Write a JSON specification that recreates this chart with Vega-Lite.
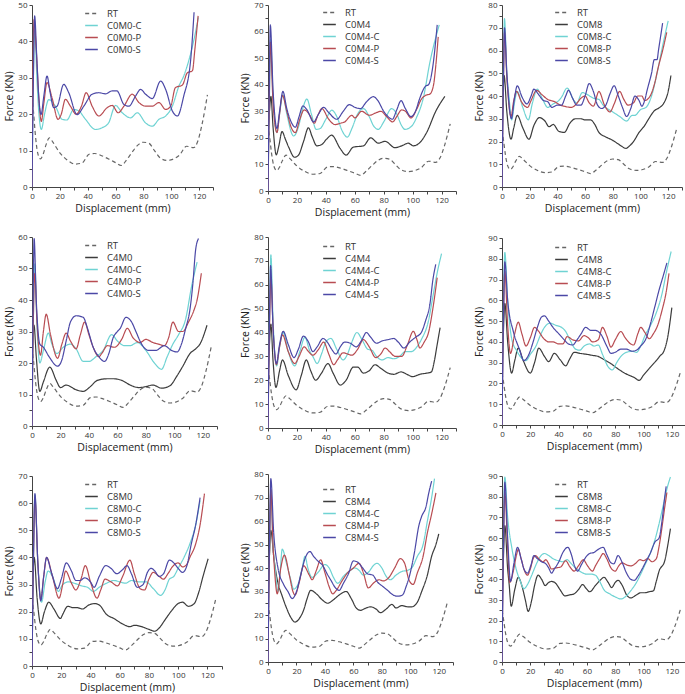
{
"$schema":"https://vega.github.io/schema/vega-lite/v6.json",
"padding":{"left":4,"top":1,"right":0,"bottom":0},
"background":"white",
"datasets":{"d":[
{"s":"RT","x":0,"y":25},{"s":"RT","x":1,"y":21},{"s":"RT","x":2.5,"y":14},{"s":"RT","x":4,"y":9.5},{"s":"RT","x":6,"y":7.7},{"s":"RT","x":8,"y":9},{"s":"RT","x":10,"y":11.5},{"s":"RT","x":12.5,"y":13.5},{"s":"RT","x":15,"y":12.3},{"s":"RT","x":20,"y":9.4},{"s":"RT","x":25,"y":7.5},{"s":"RT","x":31,"y":6.3},{"s":"RT","x":36,"y":6.6},{"s":"RT","x":41,"y":9},{"s":"RT","x":45,"y":9.2},{"s":"RT","x":50,"y":8.6},{"s":"RT","x":55,"y":7.7},{"s":"RT","x":60,"y":6.7},{"s":"RT","x":64,"y":5.9},{"s":"RT","x":68,"y":7.5},{"s":"RT","x":72,"y":9.6},{"s":"RT","x":76,"y":11.5},{"s":"RT","x":80,"y":12.3},{"s":"RT","x":84,"y":12},{"s":"RT","x":88,"y":10},{"s":"RT","x":92,"y":8},{"s":"RT","x":97,"y":7.3},{"s":"RT","x":101,"y":7.6},{"s":"RT","x":106,"y":8.8},{"s":"RT","x":111,"y":11.2},{"s":"RT","x":116,"y":10.8},{"s":"RT","x":119,"y":12.5},{"s":"RT","x":122,"y":17},{"s":"RT","x":126,"y":25.3},

{"s":"C0M0-C","x":0,"y":0},{"s":"C0M0-C","x":1,"y":30},{"s":"C0M0-C","x":2,"y":43},{"s":"C0M0-C","x":3.5,"y":30},{"s":"C0M0-C","x":5,"y":20},{"s":"C0M0-C","x":6.7,"y":15.8},{"s":"C0M0-C","x":9,"y":20},{"s":"C0M0-C","x":12,"y":24},{"s":"C0M0-C","x":16.8,"y":22.2},{"s":"C0M0-C","x":21.6,"y":18.6},{"s":"C0M0-C","x":25,"y":18.4},{"s":"C0M0-C","x":30,"y":21.3},{"s":"C0M0-C","x":33.6,"y":20.9},{"s":"C0M0-C","x":38.4,"y":18.6},{"s":"C0M0-C","x":45.6,"y":15.8},{"s":"C0M0-C","x":50.4,"y":16.3},{"s":"C0M0-C","x":55,"y":17.6},{"s":"C0M0-C","x":60,"y":22.4},{"s":"C0M0-C","x":64.8,"y":20.4},{"s":"C0M0-C","x":70.8,"y":19},{"s":"C0M0-C","x":75.6,"y":20.4},{"s":"C0M0-C","x":81.6,"y":17.6},{"s":"C0M0-C","x":86.4,"y":16.7},{"s":"C0M0-C","x":91.2,"y":18.6},{"s":"C0M0-C","x":96,"y":19.5},{"s":"C0M0-C","x":100.8,"y":22.2},{"s":"C0M0-C","x":105.6,"y":27.8},{"s":"C0M0-C","x":109,"y":30.5},{"s":"C0M0-C","x":112.8,"y":35},{"s":"C0M0-C","x":116.4,"y":40.6},{"s":"C0M0-C","x":119.5,"y":46.6},

{"s":"C0M0-P","x":0,"y":0},{"s":"C0M0-P","x":0.8,"y":35},{"s":"C0M0-P","x":1.5,"y":46},{"s":"C0M0-P","x":3,"y":38},{"s":"C0M0-P","x":5,"y":24},{"s":"C0M0-P","x":6.7,"y":18},{"s":"C0M0-P","x":8.5,"y":23},{"s":"C0M0-P","x":10.8,"y":28.7},{"s":"C0M0-P","x":14.4,"y":24.5},{"s":"C0M0-P","x":18.7,"y":18.6},{"s":"C0M0-P","x":21,"y":20},{"s":"C0M0-P","x":24,"y":24.1},{"s":"C0M0-P","x":27.6,"y":22.2},{"s":"C0M0-P","x":31.7,"y":20},{"s":"C0M0-P","x":35.5,"y":22.2},{"s":"C0M0-P","x":38.9,"y":25.9},{"s":"C0M0-P","x":43.2,"y":22.2},{"s":"C0M0-P","x":48,"y":19.5},{"s":"C0M0-P","x":54,"y":21.8},{"s":"C0M0-P","x":57.6,"y":22.4},{"s":"C0M0-P","x":61.9,"y":20.4},{"s":"C0M0-P","x":66,"y":22.2},{"s":"C0M0-P","x":72,"y":25.5},{"s":"C0M0-P","x":76.8,"y":23.2},{"s":"C0M0-P","x":81.6,"y":22.2},{"s":"C0M0-P","x":86.4,"y":22.2},{"s":"C0M0-P","x":91.2,"y":23.2},{"s":"C0M0-P","x":96,"y":21.3},{"s":"C0M0-P","x":99.6,"y":22.2},{"s":"C0M0-P","x":103,"y":27.3},{"s":"C0M0-P","x":108,"y":28},{"s":"C0M0-P","x":111.6,"y":31.4},{"s":"C0M0-P","x":115.2,"y":31.9},{"s":"C0M0-P","x":117,"y":37.9},{"s":"C0M0-P","x":119.3,"y":47},

{"s":"C0M0-S","x":0,"y":0},{"s":"C0M0-S","x":1,"y":30},{"s":"C0M0-S","x":1.9,"y":47},{"s":"C0M0-S","x":3.5,"y":35},{"s":"C0M0-S","x":5,"y":24},{"s":"C0M0-S","x":6.5,"y":19.9},{"s":"C0M0-S","x":8.5,"y":25},{"s":"C0M0-S","x":10.8,"y":30.5},{"s":"C0M0-S","x":13,"y":26},{"s":"C0M0-S","x":15.6,"y":21.8},{"s":"C0M0-S","x":18,"y":22.2},{"s":"C0M0-S","x":22.8,"y":28.2},{"s":"C0M0-S","x":26.4,"y":25.9},{"s":"C0M0-S","x":32.4,"y":19.9},{"s":"C0M0-S","x":37.2,"y":22.2},{"s":"C0M0-S","x":43.2,"y":25.5},{"s":"C0M0-S","x":48,"y":25.9},{"s":"C0M0-S","x":52.8,"y":25.6},{"s":"C0M0-S","x":57.6,"y":26.4},{"s":"C0M0-S","x":61,"y":26.4},{"s":"C0M0-S","x":66,"y":22.7},{"s":"C0M0-S","x":69.6,"y":22.2},{"s":"C0M0-S","x":74.4,"y":25},{"s":"C0M0-S","x":78,"y":26.8},{"s":"C0M0-S","x":81.6,"y":25.5},{"s":"C0M0-S","x":86.4,"y":24.3},{"s":"C0M0-S","x":92.4,"y":29.1},{"s":"C0M0-S","x":96,"y":26.8},{"s":"C0M0-S","x":100.8,"y":20.9},{"s":"C0M0-S","x":104.4,"y":19.5},{"s":"C0M0-S","x":109,"y":25},{"s":"C0M0-S","x":114,"y":35.1},{"s":"C0M0-S","x":116.4,"y":48},

{"s":"C0M4","x":0,"y":22},{"s":"C0M4","x":1,"y":30},{"s":"C0M4","x":2,"y":35.6},{"s":"C0M4","x":3.5,"y":24},{"s":"C0M4","x":5.7,"y":13.6},{"s":"C0M4","x":7.5,"y":17},{"s":"C0M4","x":9.7,"y":22.4},{"s":"C0M4","x":12,"y":19.5},{"s":"C0M4","x":14.3,"y":16.5},{"s":"C0M4","x":18.4,"y":12.7},{"s":"C0M4","x":21.1,"y":13.5},{"s":"C0M4","x":24.5,"y":18.5},{"s":"C0M4","x":28,"y":23.8},{"s":"C0M4","x":30.5,"y":20.5},{"s":"C0M4","x":33.8,"y":17},{"s":"C0M4","x":37.2,"y":17.5},{"s":"C0M4","x":40.5,"y":19.5},{"s":"C0M4","x":44,"y":21},{"s":"C0M4","x":49.9,"y":16},{"s":"C0M4","x":54,"y":13.5},{"s":"C0M4","x":59,"y":16.5},{"s":"C0M4","x":66,"y":17},{"s":"C0M4","x":71,"y":20},{"s":"C0M4","x":76.3,"y":18},{"s":"C0M4","x":81,"y":18.7},{"s":"C0M4","x":87.8,"y":16.3},{"s":"C0M4","x":92.4,"y":17},{"s":"C0M4","x":97,"y":18},{"s":"C0M4","x":100.5,"y":17},{"s":"C0M4","x":104.6,"y":18},{"s":"C0M4","x":109.7,"y":22},{"s":"C0M4","x":116,"y":30},{"s":"C0M4","x":122.3,"y":35.6},

{"s":"C0M4-C","x":0,"y":0},{"s":"C0M4-C","x":1,"y":35},{"s":"C0M4-C","x":1.8,"y":57},{"s":"C0M4-C","x":3.5,"y":35},{"s":"C0M4-C","x":6.2,"y":22},{"s":"C0M4-C","x":8,"y":29},{"s":"C0M4-C","x":10.3,"y":36.2},{"s":"C0M4-C","x":13,"y":29},{"s":"C0M4-C","x":17.7,"y":20.7},{"s":"C0M4-C","x":21,"y":24},{"s":"C0M4-C","x":24,"y":31},{"s":"C0M4-C","x":26.9,"y":34.6},{"s":"C0M4-C","x":30,"y":29},{"s":"C0M4-C","x":33.3,"y":23.2},{"s":"C0M4-C","x":36,"y":23.5},{"s":"C0M4-C","x":40,"y":27},{"s":"C0M4-C","x":44.1,"y":30.4},{"s":"C0M4-C","x":48,"y":27.5},{"s":"C0M4-C","x":51,"y":23},{"s":"C0M4-C","x":54.9,"y":20.3},{"s":"C0M4-C","x":58,"y":23.5},{"s":"C0M4-C","x":62,"y":29},{"s":"C0M4-C","x":66,"y":31},{"s":"C0M4-C","x":70,"y":28},{"s":"C0M4-C","x":73,"y":24.5},{"s":"C0M4-C","x":76.3,"y":23.2},{"s":"C0M4-C","x":80,"y":26},{"s":"C0M4-C","x":85.5,"y":31},{"s":"C0M4-C","x":89,"y":29},{"s":"C0M4-C","x":92,"y":25},{"s":"C0M4-C","x":94.7,"y":23.2},{"s":"C0M4-C","x":99.3,"y":24.4},{"s":"C0M4-C","x":103,"y":28},{"s":"C0M4-C","x":107.4,"y":35},{"s":"C0M4-C","x":112,"y":48.6},{"s":"C0M4-C","x":118.4,"y":62.5},

{"s":"C0M4-P","x":0,"y":0},{"s":"C0M4-P","x":0.8,"y":30},{"s":"C0M4-P","x":1.6,"y":56},{"s":"C0M4-P","x":3.5,"y":33},{"s":"C0M4-P","x":6.2,"y":22},{"s":"C0M4-P","x":8,"y":29},{"s":"C0M4-P","x":9.9,"y":36},{"s":"C0M4-P","x":13,"y":30},{"s":"C0M4-P","x":16,"y":24},{"s":"C0M4-P","x":18.9,"y":22},{"s":"C0M4-P","x":22,"y":27},{"s":"C0M4-P","x":25,"y":30.5},{"s":"C0M4-P","x":29,"y":28.5},{"s":"C0M4-P","x":32,"y":25.5},{"s":"C0M4-P","x":34.5,"y":28.5},{"s":"C0M4-P","x":37.2,"y":31},{"s":"C0M4-P","x":42,"y":27},{"s":"C0M4-P","x":46.4,"y":25},{"s":"C0M4-P","x":50,"y":25.5},{"s":"C0M4-P","x":53,"y":26},{"s":"C0M4-P","x":58,"y":28.5},{"s":"C0M4-P","x":60,"y":27.5},{"s":"C0M4-P","x":64.8,"y":30},{"s":"C0M4-P","x":70,"y":28.5},{"s":"C0M4-P","x":75,"y":29.5},{"s":"C0M4-P","x":78,"y":30},{"s":"C0M4-P","x":82,"y":28},{"s":"C0M4-P","x":86.2,"y":26},{"s":"C0M4-P","x":89,"y":28},{"s":"C0M4-P","x":92.4,"y":30.5},{"s":"C0M4-P","x":95,"y":30},{"s":"C0M4-P","x":98.9,"y":27.5},{"s":"C0M4-P","x":103,"y":31},{"s":"C0M4-P","x":106,"y":34.5},{"s":"C0M4-P","x":109,"y":36},{"s":"C0M4-P","x":112,"y":36.5},{"s":"C0M4-P","x":114.5,"y":40},{"s":"C0M4-P","x":116,"y":47},{"s":"C0M4-P","x":117.7,"y":58},

{"s":"C0M4-S","x":0,"y":0},{"s":"C0M4-S","x":0.8,"y":35},{"s":"C0M4-S","x":1.6,"y":62.5},{"s":"C0M4-S","x":3.5,"y":38},{"s":"C0M4-S","x":6.2,"y":23.5},{"s":"C0M4-S","x":8,"y":30},{"s":"C0M4-S","x":10.3,"y":37.5},{"s":"C0M4-S","x":13,"y":31},{"s":"C0M4-S","x":16,"y":26},{"s":"C0M4-S","x":18.9,"y":24},{"s":"C0M4-S","x":21.5,"y":28},{"s":"C0M4-S","x":24.1,"y":32},{"s":"C0M4-S","x":27,"y":30.5},{"s":"C0M4-S","x":31.5,"y":26},{"s":"C0M4-S","x":35,"y":29},{"s":"C0M4-S","x":38.4,"y":31.5},{"s":"C0M4-S","x":42,"y":29.5},{"s":"C0M4-S","x":47.6,"y":27},{"s":"C0M4-S","x":52,"y":30},{"s":"C0M4-S","x":56.3,"y":32.5},{"s":"C0M4-S","x":60,"y":31.5},{"s":"C0M4-S","x":64,"y":31},{"s":"C0M4-S","x":68,"y":33.5},{"s":"C0M4-S","x":72.9,"y":35.5},{"s":"C0M4-S","x":76,"y":34},{"s":"C0M4-S","x":80,"y":30},{"s":"C0M4-S","x":83,"y":28},{"s":"C0M4-S","x":86,"y":27},{"s":"C0M4-S","x":89,"y":30.5},{"s":"C0M4-S","x":92,"y":34},{"s":"C0M4-S","x":95,"y":31},{"s":"C0M4-S","x":98.9,"y":28},{"s":"C0M4-S","x":102,"y":30},{"s":"C0M4-S","x":105,"y":35},{"s":"C0M4-S","x":109,"y":39.5},{"s":"C0M4-S","x":111,"y":40},{"s":"C0M4-S","x":114,"y":47},{"s":"C0M4-S","x":117,"y":62.5},

{"s":"C0M8","x":0,"y":25},{"s":"C0M8","x":0.8,"y":40},{"s":"C0M8","x":1.5,"y":49},{"s":"C0M8","x":3.5,"y":33},{"s":"C0M8","x":6.5,"y":21},{"s":"C0M8","x":8.5,"y":26},{"s":"C0M8","x":11,"y":31.5},{"s":"C0M8","x":15,"y":26},{"s":"C0M8","x":19.5,"y":21},{"s":"C0M8","x":23,"y":27},{"s":"C0M8","x":27,"y":30.5},{"s":"C0M8","x":31,"y":29},{"s":"C0M8","x":34,"y":26.5},{"s":"C0M8","x":37,"y":27.5},{"s":"C0M8","x":41,"y":24.5},{"s":"C0M8","x":45,"y":24},{"s":"C0M8","x":49,"y":28},{"s":"C0M8","x":53,"y":30},{"s":"C0M8","x":57,"y":30},{"s":"C0M8","x":60,"y":29.5},{"s":"C0M8","x":64,"y":29.5},{"s":"C0M8","x":67,"y":27.5},{"s":"C0M8","x":70,"y":24},{"s":"C0M8","x":75,"y":22},{"s":"C0M8","x":80,"y":20.5},{"s":"C0M8","x":85,"y":18.5},{"s":"C0M8","x":89.5,"y":17},{"s":"C0M8","x":92,"y":18},{"s":"C0M8","x":95,"y":20},{"s":"C0M8","x":99,"y":24},{"s":"C0M8","x":103,"y":27},{"s":"C0M8","x":106,"y":30},{"s":"C0M8","x":110,"y":33.5},{"s":"C0M8","x":114,"y":35},{"s":"C0M8","x":117,"y":37},{"s":"C0M8","x":120,"y":42},{"s":"C0M8","x":122,"y":49},

{"s":"C0M8-C","x":0,"y":0},{"s":"C0M8-C","x":1,"y":50},{"s":"C0M8-C","x":1.8,"y":74},{"s":"C0M8-C","x":3.5,"y":50},{"s":"C0M8-C","x":5,"y":40},{"s":"C0M8-C","x":7,"y":29.5},{"s":"C0M8-C","x":9,"y":37},{"s":"C0M8-C","x":11,"y":42},{"s":"C0M8-C","x":15,"y":35},{"s":"C0M8-C","x":19,"y":29.5},{"s":"C0M8-C","x":22,"y":37},{"s":"C0M8-C","x":25.5,"y":43},{"s":"C0M8-C","x":29,"y":39},{"s":"C0M8-C","x":33,"y":35},{"s":"C0M8-C","x":37,"y":36.5},{"s":"C0M8-C","x":41,"y":38},{"s":"C0M8-C","x":43,"y":39.5},{"s":"C0M8-C","x":47,"y":43.5},{"s":"C0M8-C","x":52,"y":38},{"s":"C0M8-C","x":54,"y":37},{"s":"C0M8-C","x":58,"y":41.5},{"s":"C0M8-C","x":62,"y":40.5},{"s":"C0M8-C","x":66,"y":39},{"s":"C0M8-C","x":70,"y":38.5},{"s":"C0M8-C","x":73,"y":36},{"s":"C0M8-C","x":80,"y":33},{"s":"C0M8-C","x":85,"y":31},{"s":"C0M8-C","x":90,"y":29},{"s":"C0M8-C","x":94,"y":31.5},{"s":"C0M8-C","x":96,"y":31.5},{"s":"C0M8-C","x":100,"y":34},{"s":"C0M8-C","x":104,"y":35},{"s":"C0M8-C","x":108,"y":40},{"s":"C0M8-C","x":112,"y":50},{"s":"C0M8-C","x":116,"y":62},{"s":"C0M8-C","x":120,"y":73},

{"s":"C0M8-P","x":0,"y":0},{"s":"C0M8-P","x":1,"y":45},{"s":"C0M8-P","x":1.8,"y":68},{"s":"C0M8-P","x":3.5,"y":48},{"s":"C0M8-P","x":6.5,"y":31},{"s":"C0M8-P","x":8.5,"y":38},{"s":"C0M8-P","x":10.5,"y":42},{"s":"C0M8-P","x":14,"y":37.5},{"s":"C0M8-P","x":18.5,"y":35},{"s":"C0M8-P","x":21,"y":38},{"s":"C0M8-P","x":25,"y":42.5},{"s":"C0M8-P","x":29,"y":40.5},{"s":"C0M8-P","x":33,"y":38.5},{"s":"C0M8-P","x":38,"y":37.5},{"s":"C0M8-P","x":42,"y":36},{"s":"C0M8-P","x":45,"y":35.5},{"s":"C0M8-P","x":50,"y":35},{"s":"C0M8-P","x":53,"y":36},{"s":"C0M8-P","x":57,"y":39},{"s":"C0M8-P","x":60,"y":40},{"s":"C0M8-P","x":63,"y":37},{"s":"C0M8-P","x":66,"y":35.5},{"s":"C0M8-P","x":70,"y":42},{"s":"C0M8-P","x":74,"y":36},{"s":"C0M8-P","x":78,"y":33},{"s":"C0M8-P","x":81,"y":36.5},{"s":"C0M8-P","x":85,"y":42},{"s":"C0M8-P","x":88,"y":38.5},{"s":"C0M8-P","x":91,"y":36},{"s":"C0M8-P","x":95,"y":37},{"s":"C0M8-P","x":98,"y":40},{"s":"C0M8-P","x":101,"y":40},{"s":"C0M8-P","x":103,"y":38},{"s":"C0M8-P","x":107,"y":40},{"s":"C0M8-P","x":110,"y":45},{"s":"C0M8-P","x":113,"y":53},{"s":"C0M8-P","x":116,"y":60},{"s":"C0M8-P","x":119,"y":68},

{"s":"C0M8-S","x":0,"y":0},{"s":"C0M8-S","x":1,"y":45},{"s":"C0M8-S","x":1.8,"y":70},{"s":"C0M8-S","x":3.5,"y":50},{"s":"C0M8-S","x":6.8,"y":30},{"s":"C0M8-S","x":9,"y":39},{"s":"C0M8-S","x":11,"y":44.5},{"s":"C0M8-S","x":14.5,"y":39.5},{"s":"C0M8-S","x":18,"y":36.5},{"s":"C0M8-S","x":21,"y":40},{"s":"C0M8-S","x":23,"y":43},{"s":"C0M8-S","x":26,"y":41},{"s":"C0M8-S","x":30,"y":38},{"s":"C0M8-S","x":33,"y":37.5},{"s":"C0M8-S","x":36,"y":35},{"s":"C0M8-S","x":40,"y":36},{"s":"C0M8-S","x":43,"y":36},{"s":"C0M8-S","x":46,"y":40},{"s":"C0M8-S","x":48,"y":42.5},{"s":"C0M8-S","x":51,"y":39},{"s":"C0M8-S","x":54,"y":36},{"s":"C0M8-S","x":57,"y":36},{"s":"C0M8-S","x":60,"y":40},{"s":"C0M8-S","x":63,"y":45.5},{"s":"C0M8-S","x":66,"y":42},{"s":"C0M8-S","x":69,"y":36},{"s":"C0M8-S","x":72,"y":34.5},{"s":"C0M8-S","x":75,"y":36},{"s":"C0M8-S","x":78,"y":41},{"s":"C0M8-S","x":81,"y":44.5},{"s":"C0M8-S","x":84,"y":40},{"s":"C0M8-S","x":87,"y":35},{"s":"C0M8-S","x":90,"y":31},{"s":"C0M8-S","x":93,"y":34.5},{"s":"C0M8-S","x":96,"y":40},{"s":"C0M8-S","x":99,"y":38},{"s":"C0M8-S","x":101,"y":35.5},{"s":"C0M8-S","x":103,"y":38},{"s":"C0M8-S","x":105,"y":43},{"s":"C0M8-S","x":108,"y":50},{"s":"C0M8-S","x":110,"y":56},{"s":"C0M8-S","x":112,"y":56},{"s":"C0M8-S","x":113,"y":60},{"s":"C0M8-S","x":116,"y":72},

{"s":"C4M0","x":0,"y":20},{"s":"C4M0","x":0.7,"y":28},{"s":"C4M0","x":1.4,"y":32},{"s":"C4M0","x":3,"y":22},{"s":"C4M0","x":5.5,"y":11},{"s":"C4M0","x":8,"y":14},{"s":"C4M0","x":12.5,"y":18.7},{"s":"C4M0","x":17,"y":14.5},{"s":"C4M0","x":20,"y":12.2},{"s":"C4M0","x":24,"y":13},{"s":"C4M0","x":31,"y":11.5},{"s":"C4M0","x":36,"y":11},{"s":"C4M0","x":41,"y":12.5},{"s":"C4M0","x":46,"y":14.5},{"s":"C4M0","x":53,"y":15},{"s":"C4M0","x":57,"y":15},{"s":"C4M0","x":63,"y":14.5},{"s":"C4M0","x":69,"y":13},{"s":"C4M0","x":75,"y":12.2},{"s":"C4M0","x":80,"y":12.5},{"s":"C4M0","x":85,"y":13},{"s":"C4M0","x":91,"y":12},{"s":"C4M0","x":97,"y":12.8},{"s":"C4M0","x":102,"y":16},{"s":"C4M0","x":106,"y":19},{"s":"C4M0","x":111,"y":23},{"s":"C4M0","x":115,"y":24.5},{"s":"C4M0","x":118,"y":26},{"s":"C4M0","x":123,"y":32},

{"s":"C4M0-C","x":0,"y":0},{"s":"C4M0-C","x":1,"y":35},{"s":"C4M0-C","x":2,"y":51.5},{"s":"C4M0-C","x":3.5,"y":32},{"s":"C4M0-C","x":5.5,"y":20},{"s":"C4M0-C","x":8,"y":24},{"s":"C4M0-C","x":11.5,"y":29.5},{"s":"C4M0-C","x":14,"y":26},{"s":"C4M0-C","x":17.5,"y":23},{"s":"C4M0-C","x":22,"y":25},{"s":"C4M0-C","x":27,"y":26},{"s":"C4M0-C","x":31,"y":24.5},{"s":"C4M0-C","x":36,"y":20.5},{"s":"C4M0-C","x":40,"y":20.5},{"s":"C4M0-C","x":45,"y":22},{"s":"C4M0-C","x":50,"y":24},{"s":"C4M0-C","x":56,"y":29},{"s":"C4M0-C","x":60,"y":27},{"s":"C4M0-C","x":65,"y":25.5},{"s":"C4M0-C","x":69,"y":25.5},{"s":"C4M0-C","x":74,"y":26.5},{"s":"C4M0-C","x":80,"y":24},{"s":"C4M0-C","x":86,"y":20},{"s":"C4M0-C","x":91,"y":18},{"s":"C4M0-C","x":95,"y":22},{"s":"C4M0-C","x":99,"y":26},{"s":"C4M0-C","x":103,"y":29},{"s":"C4M0-C","x":108,"y":34},{"s":"C4M0-C","x":112,"y":44},{"s":"C4M0-C","x":116,"y":52},

{"s":"C4M0-P","x":0,"y":0},{"s":"C4M0-P","x":1,"y":35},{"s":"C4M0-P","x":2,"y":48.5},{"s":"C4M0-P","x":3.5,"y":33},{"s":"C4M0-P","x":6,"y":22.5},{"s":"C4M0-P","x":8,"y":30},{"s":"C4M0-P","x":10,"y":35.5},{"s":"C4M0-P","x":13,"y":29},{"s":"C4M0-P","x":18,"y":21.5},{"s":"C4M0-P","x":21,"y":26},{"s":"C4M0-P","x":24,"y":29.5},{"s":"C4M0-P","x":27,"y":27},{"s":"C4M0-P","x":31,"y":24.5},{"s":"C4M0-P","x":34,"y":29},{"s":"C4M0-P","x":37,"y":33},{"s":"C4M0-P","x":40,"y":29},{"s":"C4M0-P","x":43,"y":25},{"s":"C4M0-P","x":47,"y":22},{"s":"C4M0-P","x":49,"y":23},{"s":"C4M0-P","x":53,"y":25.5},{"s":"C4M0-P","x":58,"y":25},{"s":"C4M0-P","x":63,"y":27.5},{"s":"C4M0-P","x":67,"y":31},{"s":"C4M0-P","x":71,"y":28},{"s":"C4M0-P","x":76,"y":26.5},{"s":"C4M0-P","x":80,"y":27.5},{"s":"C4M0-P","x":85,"y":26.5},{"s":"C4M0-P","x":89,"y":26},{"s":"C4M0-P","x":93,"y":25.5},{"s":"C4M0-P","x":96,"y":28},{"s":"C4M0-P","x":99,"y":33},{"s":"C4M0-P","x":103,"y":30},{"s":"C4M0-P","x":106,"y":30},{"s":"C4M0-P","x":110,"y":33},{"s":"C4M0-P","x":114,"y":37},{"s":"C4M0-P","x":116,"y":40},{"s":"C4M0-P","x":119,"y":48.5},

{"s":"C4M0-S","x":0,"y":0},{"s":"C4M0-S","x":0.8,"y":40},{"s":"C4M0-S","x":1.5,"y":59.5},{"s":"C4M0-S","x":3,"y":40},{"s":"C4M0-S","x":5.5,"y":26},{"s":"C4M0-S","x":8,"y":25},{"s":"C4M0-S","x":12,"y":22},{"s":"C4M0-S","x":18,"y":19},{"s":"C4M0-S","x":21,"y":21},{"s":"C4M0-S","x":24,"y":27},{"s":"C4M0-S","x":27,"y":33},{"s":"C4M0-S","x":31,"y":35},{"s":"C4M0-S","x":36,"y":34.5},{"s":"C4M0-S","x":39,"y":31},{"s":"C4M0-S","x":43,"y":25},{"s":"C4M0-S","x":47,"y":22},{"s":"C4M0-S","x":51,"y":20.5},{"s":"C4M0-S","x":54,"y":23},{"s":"C4M0-S","x":57,"y":28},{"s":"C4M0-S","x":60,"y":30},{"s":"C4M0-S","x":62,"y":31},{"s":"C4M0-S","x":66,"y":34.5},{"s":"C4M0-S","x":70,"y":33},{"s":"C4M0-S","x":73,"y":30},{"s":"C4M0-S","x":77,"y":26},{"s":"C4M0-S","x":82,"y":24},{"s":"C4M0-S","x":87,"y":24},{"s":"C4M0-S","x":93,"y":25.5},{"s":"C4M0-S","x":98,"y":24},{"s":"C4M0-S","x":102,"y":23.5},{"s":"C4M0-S","x":105,"y":26},{"s":"C4M0-S","x":108,"y":31},{"s":"C4M0-S","x":111,"y":37},{"s":"C4M0-S","x":113,"y":45},{"s":"C4M0-S","x":115,"y":56},{"s":"C4M0-S","x":117,"y":59.5},

{"s":"C4M4","x":0,"y":20},{"s":"C4M4","x":1,"y":35},{"s":"C4M4","x":2,"y":43.5},{"s":"C4M4","x":3.5,"y":28},{"s":"C4M4","x":5.5,"y":17},{"s":"C4M4","x":8,"y":24},{"s":"C4M4","x":10,"y":28.5},{"s":"C4M4","x":14,"y":22},{"s":"C4M4","x":19.5,"y":16},{"s":"C4M4","x":23,"y":22},{"s":"C4M4","x":26.5,"y":28.5},{"s":"C4M4","x":29.5,"y":24},{"s":"C4M4","x":33,"y":20},{"s":"C4M4","x":37,"y":23},{"s":"C4M4","x":41.5,"y":27},{"s":"C4M4","x":45,"y":23},{"s":"C4M4","x":50,"y":18},{"s":"C4M4","x":54,"y":20},{"s":"C4M4","x":59,"y":25.5},{"s":"C4M4","x":62,"y":25.5},{"s":"C4M4","x":66,"y":23},{"s":"C4M4","x":70,"y":24},{"s":"C4M4","x":74,"y":26.5},{"s":"C4M4","x":78,"y":25},{"s":"C4M4","x":83,"y":23},{"s":"C4M4","x":87,"y":22.5},{"s":"C4M4","x":92,"y":23.5},{"s":"C4M4","x":96,"y":22.5},{"s":"C4M4","x":100,"y":21.5},{"s":"C4M4","x":105,"y":22.5},{"s":"C4M4","x":110,"y":23},{"s":"C4M4","x":113,"y":23.5},{"s":"C4M4","x":115,"y":28},{"s":"C4M4","x":117,"y":35},{"s":"C4M4","x":119,"y":42},

{"s":"C4M4-C","x":0,"y":0},{"s":"C4M4-C","x":1,"y":45},{"s":"C4M4-C","x":2,"y":72.5},{"s":"C4M4-C","x":3.5,"y":45},{"s":"C4M4-C","x":6,"y":26},{"s":"C4M4-C","x":8,"y":34},{"s":"C4M4-C","x":10.5,"y":40},{"s":"C4M4-C","x":14,"y":32},{"s":"C4M4-C","x":18.5,"y":26},{"s":"C4M4-C","x":22,"y":32},{"s":"C4M4-C","x":25.5,"y":38},{"s":"C4M4-C","x":29,"y":32},{"s":"C4M4-C","x":31,"y":30},{"s":"C4M4-C","x":34,"y":27},{"s":"C4M4-C","x":37,"y":31},{"s":"C4M4-C","x":40,"y":36},{"s":"C4M4-C","x":43.5,"y":37.5},{"s":"C4M4-C","x":47.5,"y":33},{"s":"C4M4-C","x":52,"y":28.5},{"s":"C4M4-C","x":55,"y":31},{"s":"C4M4-C","x":58,"y":36},{"s":"C4M4-C","x":61.5,"y":40},{"s":"C4M4-C","x":65,"y":37},{"s":"C4M4-C","x":69,"y":33},{"s":"C4M4-C","x":72,"y":32.5},{"s":"C4M4-C","x":75,"y":30},{"s":"C4M4-C","x":79,"y":28.5},{"s":"C4M4-C","x":83,"y":29.5},{"s":"C4M4-C","x":87,"y":29},{"s":"C4M4-C","x":91,"y":30},{"s":"C4M4-C","x":95,"y":32},{"s":"C4M4-C","x":99,"y":32},{"s":"C4M4-C","x":103,"y":34},{"s":"C4M4-C","x":106,"y":37},{"s":"C4M4-C","x":111,"y":45},{"s":"C4M4-C","x":114,"y":55},{"s":"C4M4-C","x":117,"y":65},{"s":"C4M4-C","x":120,"y":73},

{"s":"C4M4-P","x":0,"y":0},{"s":"C4M4-P","x":1,"y":40},{"s":"C4M4-P","x":2,"y":63},{"s":"C4M4-P","x":3.5,"y":42},{"s":"C4M4-P","x":5.8,"y":26.5},{"s":"C4M4-P","x":8,"y":34},{"s":"C4M4-P","x":10,"y":39},{"s":"C4M4-P","x":14,"y":32},{"s":"C4M4-P","x":18.5,"y":27},{"s":"C4M4-P","x":21.5,"y":30},{"s":"C4M4-P","x":25,"y":34},{"s":"C4M4-P","x":28,"y":32},{"s":"C4M4-P","x":31,"y":30.5},{"s":"C4M4-P","x":35,"y":33},{"s":"C4M4-P","x":38.5,"y":36},{"s":"C4M4-P","x":42,"y":31},{"s":"C4M4-P","x":45.5,"y":26.5},{"s":"C4M4-P","x":48,"y":28.5},{"s":"C4M4-P","x":52,"y":31.5},{"s":"C4M4-P","x":55,"y":31},{"s":"C4M4-P","x":58,"y":30.5},{"s":"C4M4-P","x":62,"y":33},{"s":"C4M4-P","x":66,"y":37},{"s":"C4M4-P","x":70,"y":34},{"s":"C4M4-P","x":74.5,"y":29.5},{"s":"C4M4-P","x":78,"y":31},{"s":"C4M4-P","x":81,"y":33.5},{"s":"C4M4-P","x":84,"y":32},{"s":"C4M4-P","x":88,"y":30},{"s":"C4M4-P","x":92.5,"y":30},{"s":"C4M4-P","x":96.5,"y":35},{"s":"C4M4-P","x":100.5,"y":40.5},{"s":"C4M4-P","x":103,"y":37},{"s":"C4M4-P","x":105,"y":33.5},{"s":"C4M4-P","x":108,"y":36},{"s":"C4M4-P","x":111,"y":40},{"s":"C4M4-P","x":114,"y":50},{"s":"C4M4-P","x":117,"y":63},

{"s":"C4M4-S","x":0,"y":0},{"s":"C4M4-S","x":1,"y":45},{"s":"C4M4-S","x":1.8,"y":68},{"s":"C4M4-S","x":3.5,"y":42},{"s":"C4M4-S","x":5.8,"y":27},{"s":"C4M4-S","x":8,"y":35},{"s":"C4M4-S","x":10.5,"y":40.5},{"s":"C4M4-S","x":14,"y":35},{"s":"C4M4-S","x":18,"y":29.5},{"s":"C4M4-S","x":21,"y":33},{"s":"C4M4-S","x":24.5,"y":38.5},{"s":"C4M4-S","x":28,"y":36},{"s":"C4M4-S","x":31,"y":32},{"s":"C4M4-S","x":34,"y":34},{"s":"C4M4-S","x":38,"y":37.5},{"s":"C4M4-S","x":41,"y":36},{"s":"C4M4-S","x":44,"y":33},{"s":"C4M4-S","x":47,"y":31},{"s":"C4M4-S","x":50,"y":34},{"s":"C4M4-S","x":53,"y":36},{"s":"C4M4-S","x":57,"y":35.5},{"s":"C4M4-S","x":61,"y":34},{"s":"C4M4-S","x":65,"y":37},{"s":"C4M4-S","x":68,"y":40},{"s":"C4M4-S","x":71,"y":38},{"s":"C4M4-S","x":75,"y":35.5},{"s":"C4M4-S","x":79,"y":36.5},{"s":"C4M4-S","x":83,"y":37},{"s":"C4M4-S","x":87,"y":37.5},{"s":"C4M4-S","x":90,"y":36},{"s":"C4M4-S","x":94,"y":33.5},{"s":"C4M4-S","x":98,"y":36},{"s":"C4M4-S","x":102,"y":38},{"s":"C4M4-S","x":106,"y":40},{"s":"C4M4-S","x":109,"y":45},{"s":"C4M4-S","x":112,"y":52},{"s":"C4M4-S","x":114,"y":62},{"s":"C4M4-S","x":116,"y":68.5},

{"s":"C4M8","x":0,"y":25},{"s":"C4M8","x":1,"y":45},{"s":"C4M8","x":2,"y":58.5},{"s":"C4M8","x":4,"y":40},{"s":"C4M8","x":6.8,"y":25},{"s":"C4M8","x":9,"y":31},{"s":"C4M8","x":11.5,"y":37},{"s":"C4M8","x":15,"y":31},{"s":"C4M8","x":20,"y":25},{"s":"C4M8","x":23,"y":30},{"s":"C4M8","x":26,"y":37},{"s":"C4M8","x":30,"y":33},{"s":"C4M8","x":33,"y":30.5},{"s":"C4M8","x":37,"y":34.5},{"s":"C4M8","x":41,"y":31.5},{"s":"C4M8","x":45,"y":28.5},{"s":"C4M8","x":48,"y":32},{"s":"C4M8","x":51,"y":35},{"s":"C4M8","x":55,"y":34.5},{"s":"C4M8","x":60,"y":34},{"s":"C4M8","x":64,"y":33.5},{"s":"C4M8","x":68,"y":33},{"s":"C4M8","x":72,"y":31.5},{"s":"C4M8","x":77,"y":29.5},{"s":"C4M8","x":82,"y":27},{"s":"C4M8","x":88,"y":24.5},{"s":"C4M8","x":93,"y":23},{"s":"C4M8","x":97,"y":21.5},{"s":"C4M8","x":100,"y":24},{"s":"C4M8","x":105,"y":28},{"s":"C4M8","x":109,"y":31},{"s":"C4M8","x":112,"y":33.5},{"s":"C4M8","x":114,"y":35},{"s":"C4M8","x":117,"y":42},{"s":"C4M8","x":120,"y":56.5},

{"s":"C4M8-C","x":0,"y":0},{"s":"C4M8-C","x":1,"y":55},{"s":"C4M8-C","x":2,"y":83},{"s":"C4M8-C","x":4,"y":60},{"s":"C4M8-C","x":7,"y":41},{"s":"C4M8-C","x":10.6,"y":35.5},{"s":"C4M8-C","x":15,"y":31.5},{"s":"C4M8-C","x":17,"y":31},{"s":"C4M8-C","x":20,"y":34},{"s":"C4M8-C","x":24,"y":38},{"s":"C4M8-C","x":27,"y":43},{"s":"C4M8-C","x":30,"y":47},{"s":"C4M8-C","x":34,"y":49},{"s":"C4M8-C","x":38,"y":48},{"s":"C4M8-C","x":42,"y":47},{"s":"C4M8-C","x":45,"y":45},{"s":"C4M8-C","x":48,"y":41},{"s":"C4M8-C","x":52,"y":36.5},{"s":"C4M8-C","x":55,"y":36},{"s":"C4M8-C","x":58,"y":38},{"s":"C4M8-C","x":62,"y":39},{"s":"C4M8-C","x":65,"y":38},{"s":"C4M8-C","x":68,"y":38.5},{"s":"C4M8-C","x":71,"y":34},{"s":"C4M8-C","x":75,"y":28},{"s":"C4M8-C","x":78,"y":26.5},{"s":"C4M8-C","x":81,"y":30},{"s":"C4M8-C","x":84,"y":33},{"s":"C4M8-C","x":88,"y":35},{"s":"C4M8-C","x":92,"y":35.5},{"s":"C4M8-C","x":95,"y":35},{"s":"C4M8-C","x":98,"y":38},{"s":"C4M8-C","x":101,"y":43},{"s":"C4M8-C","x":105,"y":48},{"s":"C4M8-C","x":109,"y":54},{"s":"C4M8-C","x":113,"y":63},{"s":"C4M8-C","x":116,"y":73},{"s":"C4M8-C","x":119.5,"y":83.5},

{"s":"C4M8-P","x":0,"y":0},{"s":"C4M8-P","x":1,"y":50},{"s":"C4M8-P","x":2,"y":74},{"s":"C4M8-P","x":4,"y":48},{"s":"C4M8-P","x":6,"y":34.5},{"s":"C4M8-P","x":9,"y":44},{"s":"C4M8-P","x":11.5,"y":49.5},{"s":"C4M8-P","x":14,"y":44},{"s":"C4M8-P","x":17,"y":38},{"s":"C4M8-P","x":20,"y":42},{"s":"C4M8-P","x":23,"y":47},{"s":"C4M8-P","x":26,"y":45},{"s":"C4M8-P","x":29,"y":42},{"s":"C4M8-P","x":33,"y":40},{"s":"C4M8-P","x":36,"y":40},{"s":"C4M8-P","x":40,"y":39},{"s":"C4M8-P","x":43,"y":39},{"s":"C4M8-P","x":46,"y":42.5},{"s":"C4M8-P","x":50,"y":41},{"s":"C4M8-P","x":54,"y":40.5},{"s":"C4M8-P","x":58,"y":43},{"s":"C4M8-P","x":61,"y":42},{"s":"C4M8-P","x":64,"y":40},{"s":"C4M8-P","x":68,"y":41},{"s":"C4M8-P","x":71,"y":47},{"s":"C4M8-P","x":74,"y":43},{"s":"C4M8-P","x":77,"y":37.5},{"s":"C4M8-P","x":80,"y":41},{"s":"C4M8-P","x":84,"y":45},{"s":"C4M8-P","x":87,"y":42},{"s":"C4M8-P","x":91,"y":39},{"s":"C4M8-P","x":93,"y":38.5},{"s":"C4M8-P","x":96,"y":44},{"s":"C4M8-P","x":98,"y":47},{"s":"C4M8-P","x":101,"y":44.5},{"s":"C4M8-P","x":104,"y":41.5},{"s":"C4M8-P","x":107,"y":44},{"s":"C4M8-P","x":110,"y":48},{"s":"C4M8-P","x":113,"y":55},{"s":"C4M8-P","x":116,"y":64},{"s":"C4M8-P","x":118,"y":73},

{"s":"C4M8-S","x":0,"y":0},{"s":"C4M8-S","x":1,"y":50},{"s":"C4M8-S","x":2,"y":78.5},{"s":"C4M8-S","x":4,"y":60},{"s":"C4M8-S","x":8,"y":45},{"s":"C4M8-S","x":12,"y":37},{"s":"C4M8-S","x":15.5,"y":31},{"s":"C4M8-S","x":19,"y":34},{"s":"C4M8-S","x":22,"y":40},{"s":"C4M8-S","x":25,"y":47},{"s":"C4M8-S","x":28,"y":52},{"s":"C4M8-S","x":30,"y":52.5},{"s":"C4M8-S","x":33,"y":50},{"s":"C4M8-S","x":36,"y":47},{"s":"C4M8-S","x":40,"y":44},{"s":"C4M8-S","x":44,"y":41},{"s":"C4M8-S","x":47,"y":39},{"s":"C4M8-S","x":50,"y":38.5},{"s":"C4M8-S","x":53,"y":41},{"s":"C4M8-S","x":56,"y":44},{"s":"C4M8-S","x":59,"y":47},{"s":"C4M8-S","x":63,"y":45.5},{"s":"C4M8-S","x":66,"y":45.5},{"s":"C4M8-S","x":70,"y":43.5},{"s":"C4M8-S","x":74,"y":38},{"s":"C4M8-S","x":77,"y":34.5},{"s":"C4M8-S","x":80,"y":35},{"s":"C4M8-S","x":84,"y":36.5},{"s":"C4M8-S","x":88,"y":36.5},{"s":"C4M8-S","x":92,"y":35.5},{"s":"C4M8-S","x":95,"y":36},{"s":"C4M8-S","x":98,"y":38},{"s":"C4M8-S","x":102,"y":42},{"s":"C4M8-S","x":105,"y":49},{"s":"C4M8-S","x":108,"y":57},{"s":"C4M8-S","x":111,"y":65},{"s":"C4M8-S","x":114,"y":72},{"s":"C4M8-S","x":116.5,"y":78},

{"s":"C8M0","x":0,"y":25},{"s":"C8M0","x":0.8,"y":35},{"s":"C8M0","x":1.5,"y":40},{"s":"C8M0","x":3.5,"y":25},{"s":"C8M0","x":6,"y":15.5},{"s":"C8M0","x":8.5,"y":20},{"s":"C8M0","x":11.5,"y":23.5},{"s":"C8M0","x":15,"y":21},{"s":"C8M0","x":19.5,"y":17.5},{"s":"C8M0","x":21,"y":19},{"s":"C8M0","x":24.5,"y":22},{"s":"C8M0","x":28,"y":21.5},{"s":"C8M0","x":31,"y":21.5},{"s":"C8M0","x":34.5,"y":21},{"s":"C8M0","x":39,"y":22.5},{"s":"C8M0","x":43,"y":23},{"s":"C8M0","x":46,"y":22.5},{"s":"C8M0","x":51,"y":19},{"s":"C8M0","x":56,"y":17.5},{"s":"C8M0","x":62,"y":15.5},{"s":"C8M0","x":67,"y":14.5},{"s":"C8M0","x":70,"y":15},{"s":"C8M0","x":75,"y":14.5},{"s":"C8M0","x":80,"y":13.5},{"s":"C8M0","x":84,"y":12.8},{"s":"C8M0","x":87,"y":14},{"s":"C8M0","x":91,"y":17},{"s":"C8M0","x":95,"y":20},{"s":"C8M0","x":100,"y":23},{"s":"C8M0","x":103,"y":23.5},{"s":"C8M0","x":107,"y":22},{"s":"C8M0","x":111,"y":23},{"s":"C8M0","x":114,"y":27},{"s":"C8M0","x":117,"y":33},{"s":"C8M0","x":120.5,"y":39.5},

{"s":"C8M0-C","x":0,"y":0},{"s":"C8M0-C","x":1,"y":40},{"s":"C8M0-C","x":2,"y":63},{"s":"C8M0-C","x":4,"y":38},{"s":"C8M0-C","x":6.5,"y":23.5},{"s":"C8M0-C","x":9,"y":31},{"s":"C8M0-C","x":11,"y":35},{"s":"C8M0-C","x":14,"y":33},{"s":"C8M0-C","x":18,"y":27.5},{"s":"C8M0-C","x":21,"y":30},{"s":"C8M0-C","x":25,"y":31},{"s":"C8M0-C","x":29,"y":30.5},{"s":"C8M0-C","x":34,"y":29.5},{"s":"C8M0-C","x":38,"y":29},{"s":"C8M0-C","x":42,"y":27.5},{"s":"C8M0-C","x":46,"y":29},{"s":"C8M0-C","x":51,"y":30.5},{"s":"C8M0-C","x":56,"y":31.5},{"s":"C8M0-C","x":60,"y":31},{"s":"C8M0-C","x":64,"y":30.5},{"s":"C8M0-C","x":68,"y":31.5},{"s":"C8M0-C","x":73,"y":31},{"s":"C8M0-C","x":78,"y":31},{"s":"C8M0-C","x":83,"y":28.5},{"s":"C8M0-C","x":88,"y":26},{"s":"C8M0-C","x":91,"y":28},{"s":"C8M0-C","x":94,"y":32},{"s":"C8M0-C","x":97,"y":33},{"s":"C8M0-C","x":100,"y":36},{"s":"C8M0-C","x":104,"y":40},{"s":"C8M0-C","x":108,"y":45},{"s":"C8M0-C","x":112,"y":52},{"s":"C8M0-C","x":115,"y":61},

{"s":"C8M0-P","x":0,"y":0},{"s":"C8M0-P","x":1,"y":40},{"s":"C8M0-P","x":2,"y":62},{"s":"C8M0-P","x":4,"y":38},{"s":"C8M0-P","x":6,"y":24.5},{"s":"C8M0-P","x":8,"y":33},{"s":"C8M0-P","x":10,"y":40},{"s":"C8M0-P","x":14,"y":33},{"s":"C8M0-P","x":18.5,"y":25},{"s":"C8M0-P","x":21,"y":30},{"s":"C8M0-P","x":23,"y":35},{"s":"C8M0-P","x":27,"y":30.5},{"s":"C8M0-P","x":30,"y":28},{"s":"C8M0-P","x":33.5,"y":32},{"s":"C8M0-P","x":36.5,"y":37},{"s":"C8M0-P","x":40,"y":31},{"s":"C8M0-P","x":44.5,"y":25},{"s":"C8M0-P","x":47,"y":28},{"s":"C8M0-P","x":50,"y":32},{"s":"C8M0-P","x":54,"y":31},{"s":"C8M0-P","x":58.5,"y":29.5},{"s":"C8M0-P","x":62,"y":33},{"s":"C8M0-P","x":67,"y":39},{"s":"C8M0-P","x":70,"y":34},{"s":"C8M0-P","x":74,"y":28.5},{"s":"C8M0-P","x":77,"y":28},{"s":"C8M0-P","x":80,"y":32},{"s":"C8M0-P","x":83,"y":34.5},{"s":"C8M0-P","x":87,"y":33},{"s":"C8M0-P","x":90,"y":32},{"s":"C8M0-P","x":93,"y":34},{"s":"C8M0-P","x":96,"y":36.5},{"s":"C8M0-P","x":100,"y":38},{"s":"C8M0-P","x":103,"y":36.5},{"s":"C8M0-P","x":106,"y":37.5},{"s":"C8M0-P","x":108,"y":40},{"s":"C8M0-P","x":112,"y":45},{"s":"C8M0-P","x":115,"y":52},{"s":"C8M0-P","x":118,"y":63.5},

{"s":"C8M0-S","x":0,"y":0},{"s":"C8M0-S","x":1,"y":40},{"s":"C8M0-S","x":2,"y":63.5},{"s":"C8M0-S","x":4,"y":38},{"s":"C8M0-S","x":6,"y":24},{"s":"C8M0-S","x":8,"y":33},{"s":"C8M0-S","x":10,"y":40},{"s":"C8M0-S","x":13,"y":35},{"s":"C8M0-S","x":17.5,"y":28.5},{"s":"C8M0-S","x":20,"y":32},{"s":"C8M0-S","x":23.5,"y":38},{"s":"C8M0-S","x":27,"y":35},{"s":"C8M0-S","x":30,"y":31.5},{"s":"C8M0-S","x":33,"y":31.5},{"s":"C8M0-S","x":36,"y":32.5},{"s":"C8M0-S","x":40,"y":31},{"s":"C8M0-S","x":42.5,"y":29},{"s":"C8M0-S","x":46,"y":33},{"s":"C8M0-S","x":50.5,"y":37},{"s":"C8M0-S","x":54,"y":36},{"s":"C8M0-S","x":58,"y":34},{"s":"C8M0-S","x":62,"y":35.5},{"s":"C8M0-S","x":65,"y":37},{"s":"C8M0-S","x":68,"y":34},{"s":"C8M0-S","x":72,"y":29},{"s":"C8M0-S","x":76,"y":30},{"s":"C8M0-S","x":79,"y":34.5},{"s":"C8M0-S","x":81.5,"y":36},{"s":"C8M0-S","x":84,"y":35},{"s":"C8M0-S","x":87,"y":33},{"s":"C8M0-S","x":90,"y":34},{"s":"C8M0-S","x":94,"y":39},{"s":"C8M0-S","x":97,"y":38},{"s":"C8M0-S","x":100,"y":36},{"s":"C8M0-S","x":103,"y":34.5},{"s":"C8M0-S","x":106,"y":37},{"s":"C8M0-S","x":109,"y":45},{"s":"C8M0-S","x":112,"y":52},{"s":"C8M0-S","x":115,"y":62},

{"s":"C8M4","x":0,"y":25},{"s":"C8M4","x":1,"y":45},{"s":"C8M4","x":2,"y":56},{"s":"C8M4","x":4,"y":45},{"s":"C8M4","x":6.5,"y":35},{"s":"C8M4","x":10,"y":28},{"s":"C8M4","x":13,"y":23},{"s":"C8M4","x":16,"y":19},{"s":"C8M4","x":19,"y":17},{"s":"C8M4","x":22,"y":18.5},{"s":"C8M4","x":25,"y":22},{"s":"C8M4","x":27.5,"y":27},{"s":"C8M4","x":30,"y":30.5},{"s":"C8M4","x":34,"y":29},{"s":"C8M4","x":38,"y":26.5},{"s":"C8M4","x":42,"y":25},{"s":"C8M4","x":46,"y":26.5},{"s":"C8M4","x":50,"y":28.5},{"s":"C8M4","x":55,"y":30},{"s":"C8M4","x":58.5,"y":27},{"s":"C8M4","x":62,"y":23},{"s":"C8M4","x":65,"y":22},{"s":"C8M4","x":69,"y":23},{"s":"C8M4","x":72,"y":23.5},{"s":"C8M4","x":76,"y":22.5},{"s":"C8M4","x":79,"y":21},{"s":"C8M4","x":83,"y":22.5},{"s":"C8M4","x":87,"y":24.5},{"s":"C8M4","x":90,"y":23},{"s":"C8M4","x":94,"y":24},{"s":"C8M4","x":98,"y":23.5},{"s":"C8M4","x":101,"y":23.5},{"s":"C8M4","x":105,"y":25.5},{"s":"C8M4","x":108,"y":30},{"s":"C8M4","x":112,"y":37},{"s":"C8M4","x":115,"y":45},{"s":"C8M4","x":118,"y":50},{"s":"C8M4","x":120,"y":54.5},

{"s":"C8M4-C","x":0,"y":0},{"s":"C8M4-C","x":1,"y":45},{"s":"C8M4-C","x":2,"y":73},{"s":"C8M4-C","x":3.5,"y":50},{"s":"C8M4-C","x":5,"y":40},{"s":"C8M4-C","x":7,"y":30},{"s":"C8M4-C","x":8.5,"y":38},{"s":"C8M4-C","x":10,"y":48},{"s":"C8M4-C","x":13,"y":42},{"s":"C8M4-C","x":16,"y":35},{"s":"C8M4-C","x":18,"y":31},{"s":"C8M4-C","x":21,"y":33},{"s":"C8M4-C","x":24,"y":40},{"s":"C8M4-C","x":26,"y":45},{"s":"C8M4-C","x":28,"y":40},{"s":"C8M4-C","x":31,"y":36},{"s":"C8M4-C","x":35,"y":38},{"s":"C8M4-C","x":40,"y":41.5},{"s":"C8M4-C","x":43,"y":40},{"s":"C8M4-C","x":46,"y":36},{"s":"C8M4-C","x":49,"y":33.5},{"s":"C8M4-C","x":53,"y":36.5},{"s":"C8M4-C","x":57,"y":38.5},{"s":"C8M4-C","x":61,"y":40},{"s":"C8M4-C","x":64,"y":39},{"s":"C8M4-C","x":67,"y":37},{"s":"C8M4-C","x":71,"y":38.5},{"s":"C8M4-C","x":74,"y":41},{"s":"C8M4-C","x":76.5,"y":42},{"s":"C8M4-C","x":80,"y":40},{"s":"C8M4-C","x":83,"y":36.5},{"s":"C8M4-C","x":86,"y":35},{"s":"C8M4-C","x":90,"y":37},{"s":"C8M4-C","x":94,"y":38.5},{"s":"C8M4-C","x":98,"y":39},{"s":"C8M4-C","x":101,"y":40},{"s":"C8M4-C","x":105,"y":45},{"s":"C8M4-C","x":109,"y":50},{"s":"C8M4-C","x":112,"y":60},{"s":"C8M4-C","x":115,"y":70},{"s":"C8M4-C","x":117,"y":78},

{"s":"C8M4-P","x":0,"y":0},{"s":"C8M4-P","x":1,"y":45},{"s":"C8M4-P","x":2,"y":73.5},{"s":"C8M4-P","x":3.5,"y":50},{"s":"C8M4-P","x":4.5,"y":40},{"s":"C8M4-P","x":6.5,"y":29},{"s":"C8M4-P","x":9,"y":40},{"s":"C8M4-P","x":11.5,"y":45.5},{"s":"C8M4-P","x":15,"y":37},{"s":"C8M4-P","x":17.5,"y":30},{"s":"C8M4-P","x":19,"y":28.5},{"s":"C8M4-P","x":22,"y":34},{"s":"C8M4-P","x":25,"y":41},{"s":"C8M4-P","x":29,"y":37},{"s":"C8M4-P","x":31,"y":35},{"s":"C8M4-P","x":34,"y":39},{"s":"C8M4-P","x":37,"y":43.5},{"s":"C8M4-P","x":40,"y":38},{"s":"C8M4-P","x":43,"y":32},{"s":"C8M4-P","x":45.5,"y":29},{"s":"C8M4-P","x":48,"y":30.5},{"s":"C8M4-P","x":52,"y":34.5},{"s":"C8M4-P","x":56,"y":38},{"s":"C8M4-P","x":60,"y":40},{"s":"C8M4-P","x":64,"y":42},{"s":"C8M4-P","x":67,"y":38},{"s":"C8M4-P","x":70.5,"y":31.5},{"s":"C8M4-P","x":74,"y":33.5},{"s":"C8M4-P","x":78,"y":35},{"s":"C8M4-P","x":81,"y":34.5},{"s":"C8M4-P","x":85,"y":36},{"s":"C8M4-P","x":89,"y":40},{"s":"C8M4-P","x":93,"y":44},{"s":"C8M4-P","x":96,"y":42},{"s":"C8M4-P","x":99,"y":35},{"s":"C8M4-P","x":102,"y":33},{"s":"C8M4-P","x":105,"y":38},{"s":"C8M4-P","x":109,"y":45},{"s":"C8M4-P","x":112,"y":55},{"s":"C8M4-P","x":115,"y":63},{"s":"C8M4-P","x":118,"y":72},

{"s":"C8M4-S","x":0,"y":0},{"s":"C8M4-S","x":1,"y":50},{"s":"C8M4-S","x":2,"y":78},{"s":"C8M4-S","x":4,"y":55},{"s":"C8M4-S","x":7,"y":40},{"s":"C8M4-S","x":11,"y":33},{"s":"C8M4-S","x":14,"y":30},{"s":"C8M4-S","x":17,"y":27},{"s":"C8M4-S","x":20,"y":30},{"s":"C8M4-S","x":23,"y":37},{"s":"C8M4-S","x":26,"y":44},{"s":"C8M4-S","x":29.5,"y":47},{"s":"C8M4-S","x":32,"y":45},{"s":"C8M4-S","x":35,"y":43},{"s":"C8M4-S","x":38.5,"y":41},{"s":"C8M4-S","x":42,"y":37},{"s":"C8M4-S","x":44,"y":35},{"s":"C8M4-S","x":47.5,"y":31.5},{"s":"C8M4-S","x":50,"y":30.5},{"s":"C8M4-S","x":53,"y":33.5},{"s":"C8M4-S","x":56.5,"y":37.5},{"s":"C8M4-S","x":60,"y":43},{"s":"C8M4-S","x":63,"y":42.5},{"s":"C8M4-S","x":66.5,"y":40},{"s":"C8M4-S","x":70,"y":37.5},{"s":"C8M4-S","x":73.5,"y":37},{"s":"C8M4-S","x":77,"y":34},{"s":"C8M4-S","x":81,"y":32},{"s":"C8M4-S","x":84,"y":30.5},{"s":"C8M4-S","x":88,"y":28.5},{"s":"C8M4-S","x":91,"y":28},{"s":"C8M4-S","x":94.5,"y":28.5},{"s":"C8M4-S","x":97,"y":32},{"s":"C8M4-S","x":100,"y":38},{"s":"C8M4-S","x":103,"y":47},{"s":"C8M4-S","x":106,"y":58},{"s":"C8M4-S","x":108,"y":62},{"s":"C8M4-S","x":111,"y":66},{"s":"C8M4-S","x":113,"y":72},{"s":"C8M4-S","x":115,"y":77},

{"s":"C8M8","x":0,"y":25},{"s":"C8M8","x":1,"y":50},{"s":"C8M8","x":2,"y":66},{"s":"C8M8","x":4,"y":45},{"s":"C8M8","x":5,"y":38},{"s":"C8M8","x":6.5,"y":27},{"s":"C8M8","x":9,"y":35},{"s":"C8M8","x":11.5,"y":41},{"s":"C8M8","x":14,"y":37},{"s":"C8M8","x":16.5,"y":30},{"s":"C8M8","x":18.5,"y":24.5},{"s":"C8M8","x":21,"y":30},{"s":"C8M8","x":23,"y":37},{"s":"C8M8","x":25.5,"y":42},{"s":"C8M8","x":28,"y":40},{"s":"C8M8","x":30.5,"y":37},{"s":"C8M8","x":33,"y":38.5},{"s":"C8M8","x":35,"y":39},{"s":"C8M8","x":38,"y":38},{"s":"C8M8","x":41,"y":35},{"s":"C8M8","x":44.5,"y":32},{"s":"C8M8","x":48,"y":32.5},{"s":"C8M8","x":51,"y":33},{"s":"C8M8","x":54,"y":35},{"s":"C8M8","x":57,"y":37.5},{"s":"C8M8","x":59.5,"y":35.5},{"s":"C8M8","x":62,"y":34},{"s":"C8M8","x":66,"y":37},{"s":"C8M8","x":70,"y":40},{"s":"C8M8","x":72,"y":41},{"s":"C8M8","x":75,"y":38.5},{"s":"C8M8","x":77.5,"y":36},{"s":"C8M8","x":80,"y":38.5},{"s":"C8M8","x":82,"y":39.5},{"s":"C8M8","x":85,"y":37},{"s":"C8M8","x":88,"y":32.5},{"s":"C8M8","x":91,"y":31},{"s":"C8M8","x":95,"y":32.5},{"s":"C8M8","x":98,"y":33.5},{"s":"C8M8","x":101,"y":33.5},{"s":"C8M8","x":104,"y":34},{"s":"C8M8","x":107,"y":34.5},{"s":"C8M8","x":109,"y":39},{"s":"C8M8","x":111,"y":44},{"s":"C8M8","x":115,"y":49},{"s":"C8M8","x":117,"y":56},{"s":"C8M8","x":119,"y":64.5},

{"s":"C8M8-C","x":0,"y":0},{"s":"C8M8-C","x":1,"y":60},{"s":"C8M8-C","x":2,"y":89.5},{"s":"C8M8-C","x":4,"y":70},{"s":"C8M8-C","x":7,"y":55},{"s":"C8M8-C","x":10,"y":45},{"s":"C8M8-C","x":13,"y":39},{"s":"C8M8-C","x":15.5,"y":35.5},{"s":"C8M8-C","x":18,"y":37.5},{"s":"C8M8-C","x":21,"y":42},{"s":"C8M8-C","x":24,"y":47},{"s":"C8M8-C","x":27,"y":51},{"s":"C8M8-C","x":30,"y":52.5},{"s":"C8M8-C","x":33,"y":51.5},{"s":"C8M8-C","x":36,"y":50},{"s":"C8M8-C","x":40,"y":49},{"s":"C8M8-C","x":43,"y":48.5},{"s":"C8M8-C","x":46,"y":49.5},{"s":"C8M8-C","x":49,"y":47.5},{"s":"C8M8-C","x":52,"y":45.5},{"s":"C8M8-C","x":56,"y":43.5},{"s":"C8M8-C","x":60,"y":42.5},{"s":"C8M8-C","x":63,"y":42.5},{"s":"C8M8-C","x":66,"y":42},{"s":"C8M8-C","x":69,"y":39},{"s":"C8M8-C","x":72,"y":35},{"s":"C8M8-C","x":76,"y":33},{"s":"C8M8-C","x":80,"y":31.5},{"s":"C8M8-C","x":84,"y":30.5},{"s":"C8M8-C","x":87,"y":31.5},{"s":"C8M8-C","x":91,"y":34.5},{"s":"C8M8-C","x":95,"y":38.5},{"s":"C8M8-C","x":98,"y":42.5},{"s":"C8M8-C","x":101,"y":47},{"s":"C8M8-C","x":105,"y":53},{"s":"C8M8-C","x":108,"y":59},{"s":"C8M8-C","x":111,"y":67},{"s":"C8M8-C","x":114,"y":76},{"s":"C8M8-C","x":117,"y":85},{"s":"C8M8-C","x":119,"y":89.5},

{"s":"C8M8-P","x":0,"y":0},{"s":"C8M8-P","x":1,"y":55},{"s":"C8M8-P","x":2,"y":82},{"s":"C8M8-P","x":4,"y":55},{"s":"C8M8-P","x":5.5,"y":38.5},{"s":"C8M8-P","x":8,"y":44},{"s":"C8M8-P","x":10,"y":51},{"s":"C8M8-P","x":11.5,"y":54.5},{"s":"C8M8-P","x":13.5,"y":50},{"s":"C8M8-P","x":16,"y":44},{"s":"C8M8-P","x":18,"y":42},{"s":"C8M8-P","x":20,"y":45},{"s":"C8M8-P","x":22,"y":50},{"s":"C8M8-P","x":23.5,"y":51.5},{"s":"C8M8-P","x":26,"y":50},{"s":"C8M8-P","x":29,"y":48.5},{"s":"C8M8-P","x":31,"y":49.5},{"s":"C8M8-P","x":33,"y":47.5},{"s":"C8M8-P","x":35,"y":45},{"s":"C8M8-P","x":38,"y":45.5},{"s":"C8M8-P","x":41.5,"y":46},{"s":"C8M8-P","x":45,"y":49},{"s":"C8M8-P","x":48,"y":46},{"s":"C8M8-P","x":51,"y":44},{"s":"C8M8-P","x":54,"y":46.5},{"s":"C8M8-P","x":57.5,"y":49.5},{"s":"C8M8-P","x":60,"y":47},{"s":"C8M8-P","x":64,"y":44},{"s":"C8M8-P","x":66,"y":46.5},{"s":"C8M8-P","x":69,"y":50},{"s":"C8M8-P","x":71.5,"y":52.5},{"s":"C8M8-P","x":74,"y":50},{"s":"C8M8-P","x":77,"y":45.5},{"s":"C8M8-P","x":80,"y":44},{"s":"C8M8-P","x":82.5,"y":46.5},{"s":"C8M8-P","x":85,"y":48},{"s":"C8M8-P","x":88,"y":47},{"s":"C8M8-P","x":91,"y":46.5},{"s":"C8M8-P","x":94,"y":47.5},{"s":"C8M8-P","x":97.5,"y":49.5},{"s":"C8M8-P","x":100,"y":49},{"s":"C8M8-P","x":103,"y":50},{"s":"C8M8-P","x":106,"y":48.5},{"s":"C8M8-P","x":109,"y":50},{"s":"C8M8-P","x":111,"y":56},{"s":"C8M8-P","x":113,"y":65},{"s":"C8M8-P","x":115,"y":75},{"s":"C8M8-P","x":116.5,"y":82},

{"s":"C8M8-S","x":0,"y":0},{"s":"C8M8-S","x":1,"y":55},{"s":"C8M8-S","x":2,"y":87},{"s":"C8M8-S","x":4,"y":60},{"s":"C8M8-S","x":6,"y":39},{"s":"C8M8-S","x":8.5,"y":48},{"s":"C8M8-S","x":11,"y":55.5},{"s":"C8M8-S","x":13.5,"y":50},{"s":"C8M8-S","x":15.5,"y":45},{"s":"C8M8-S","x":18,"y":43},{"s":"C8M8-S","x":20.5,"y":47},{"s":"C8M8-S","x":22.5,"y":51.5},{"s":"C8M8-S","x":25,"y":50},{"s":"C8M8-S","x":28,"y":48.5},{"s":"C8M8-S","x":31,"y":47.5},{"s":"C8M8-S","x":33,"y":45.5},{"s":"C8M8-S","x":35,"y":43},{"s":"C8M8-S","x":37,"y":45},{"s":"C8M8-S","x":40.5,"y":49},{"s":"C8M8-S","x":43,"y":53},{"s":"C8M8-S","x":46.5,"y":55.5},{"s":"C8M8-S","x":49,"y":52},{"s":"C8M8-S","x":51,"y":47},{"s":"C8M8-S","x":53.5,"y":44},{"s":"C8M8-S","x":56,"y":47},{"s":"C8M8-S","x":59,"y":50.5},{"s":"C8M8-S","x":62,"y":52.5},{"s":"C8M8-S","x":65,"y":53},{"s":"C8M8-S","x":68,"y":54.5},{"s":"C8M8-S","x":71.5,"y":55.5},{"s":"C8M8-S","x":74,"y":52},{"s":"C8M8-S","x":77,"y":48},{"s":"C8M8-S","x":79,"y":47.5},{"s":"C8M8-S","x":82,"y":51.5},{"s":"C8M8-S","x":85,"y":48},{"s":"C8M8-S","x":88,"y":43},{"s":"C8M8-S","x":91,"y":40},{"s":"C8M8-S","x":93.5,"y":39.5},{"s":"C8M8-S","x":96,"y":41.5},{"s":"C8M8-S","x":99,"y":45},{"s":"C8M8-S","x":102,"y":49},{"s":"C8M8-S","x":105,"y":53},{"s":"C8M8-S","x":108,"y":58},{"s":"C8M8-S","x":111,"y":60},{"s":"C8M8-S","x":113,"y":68},{"s":"C8M8-S","x":115,"y":80},{"s":"C8M8-S","x":116,"y":85}
]},
"data":{"name":"d"},
"spacing":17,
"resolve":{"scale":{"color":"independent","strokeDash":"independent"},"legend":{"color":"independent","strokeDash":"independent"}},
"hconcat":[
{"vconcat":[
{"width":181,"height":182,"transform":[{"filter":"datum.s=='RT' || indexof(datum.s,'C0M0')==0"}],"mark":{"type":"line","interpolate":"monotone","strokeWidth":1.2,"clip":true},
"encoding":{"x":{"field":"x","type":"quantitative","scale":{"domain":[0,130],"nice":false,"zero":false},"axis":{"title":"Displacement (mm)","values":[0,10,20,30,40,50,60,70,80,90,100,110,120,130],"labelExpr":"datum.value % 20 == 0 ? datum.label : ''"}},
"y":{"field":"y","type":"quantitative","scale":{"domain":[0,50],"nice":false},"axis":{"title":"Force (KN)","values":[0,5,10,15,20,25,30,35,40,45,50],"labelExpr":"datum.value % 10 == 0 ? datum.label : ''"}},
"color":{"field":"s","type":"nominal","scale":{"domain":["RT","C0M0-C","C0M0-P","C0M0-S"],"range":["#666666","#6fd3d3","#b84c52","#4b48a6"]},"legend":{"title":null,"orient":"none","legendX":52,"legendY":1}},
"strokeDash":{"field":"s","type":"nominal","scale":{"domain":["RT","C0M0-C","C0M0-P","C0M0-S"],"range":[[4,3],[1,0],[1,0],[1,0]]},"legend":{"title":null,"orient":"none","legendX":52,"legendY":1}}}},
{"width":185,"height":189,"transform":[{"filter":"datum.s=='RT' || indexof(datum.s,'C4M0')==0"}],"mark":{"type":"line","interpolate":"monotone","strokeWidth":1.2,"clip":true},
"encoding":{"x":{"field":"x","type":"quantitative","scale":{"domain":[0,130],"nice":false,"zero":false},"axis":{"title":"Displacement (mm)","values":[0,10,20,30,40,50,60,70,80,90,100,110,120,130],"labelExpr":"datum.value % 20 == 0 ? datum.label : ''"}},
"y":{"field":"y","type":"quantitative","scale":{"domain":[0,60],"nice":false},"axis":{"title":"Force (KN)","values":[0,5,10,15,20,25,30,35,40,45,50,55,60],"labelExpr":"datum.value % 10 == 0 ? datum.label : ''"}},
"color":{"field":"s","type":"nominal","scale":{"domain":["RT","C4M0","C4M0-C","C4M0-P","C4M0-S"],"range":["#666666","#3c3c3c","#6fd3d3","#b84c52","#4b48a6"]},"legend":{"title":null,"orient":"none","legendX":52,"legendY":1}},
"strokeDash":{"field":"s","type":"nominal","scale":{"domain":["RT","C4M0","C4M0-C","C4M0-P","C4M0-S"],"range":[[4,3],[1,0],[1,0],[1,0],[1,0]]},"legend":{"title":null,"orient":"none","legendX":52,"legendY":1}}}},
{"width":190,"height":190,"transform":[{"filter":"datum.s=='RT' || indexof(datum.s,'C8M0')==0"}],"mark":{"type":"line","interpolate":"monotone","strokeWidth":1.2,"clip":true},
"encoding":{"x":{"field":"x","type":"quantitative","scale":{"domain":[0,130],"nice":false,"zero":false},"axis":{"title":"Displacement (mm)","values":[0,10,20,30,40,50,60,70,80,90,100,110,120,130],"labelExpr":"datum.value % 20 == 0 ? datum.label : ''"}},
"y":{"field":"y","type":"quantitative","scale":{"domain":[0,70],"nice":false},"axis":{"title":"Force (KN)","values":[0,5,10,15,20,25,30,35,40,45,50,55,60,65,70],"labelExpr":"datum.value % 10 == 0 ? datum.label : ''"}},
"color":{"field":"s","type":"nominal","scale":{"domain":["RT","C8M0","C8M0-C","C8M0-P","C8M0-S"],"range":["#666666","#3c3c3c","#6fd3d3","#b84c52","#4b48a6"]},"legend":{"title":null,"orient":"none","legendX":52,"legendY":1}},
"strokeDash":{"field":"s","type":"nominal","scale":{"domain":["RT","C8M0","C8M0-C","C8M0-P","C8M0-S"],"range":[[4,3],[1,0],[1,0],[1,0],[1,0]]},"legend":{"title":null,"orient":"none","legendX":52,"legendY":1}}}}
],"spacing":50,"bounds":"flush","resolve":{"scale":{"color":"independent","strokeDash":"independent"},"legend":{"color":"independent","strokeDash":"independent"}}},
{"vconcat":[
{"width":188,"height":186,"transform":[{"filter":"datum.s=='RT' || indexof(datum.s,'C0M4')==0"}],"mark":{"type":"line","interpolate":"monotone","strokeWidth":1.2,"clip":true},
"encoding":{"x":{"field":"x","type":"quantitative","scale":{"domain":[0,130],"nice":false,"zero":false},"axis":{"title":"Displacement (mm)","values":[0,10,20,30,40,50,60,70,80,90,100,110,120,130],"labelExpr":"datum.value % 20 == 0 ? datum.label : ''"}},
"y":{"field":"y","type":"quantitative","scale":{"domain":[0,70],"nice":false},"axis":{"title":"Force (KN)","values":[0,5,10,15,20,25,30,35,40,45,50,55,60,65,70],"labelExpr":"datum.value % 10 == 0 ? datum.label : ''"}},
"color":{"field":"s","type":"nominal","scale":{"domain":["RT","C0M4","C0M4-C","C0M4-P","C0M4-S"],"range":["#666666","#3c3c3c","#6fd3d3","#b84c52","#4b48a6"]},"legend":{"title":null,"orient":"none","legendX":54,"legendY":0}},
"strokeDash":{"field":"s","type":"nominal","scale":{"domain":["RT","C0M4","C0M4-C","C0M4-P","C0M4-S"],"range":[[4,3],[1,0],[1,0],[1,0],[1,0]]},"legend":{"title":null,"orient":"none","legendX":54,"legendY":0}}}},
{"width":188,"height":191,"transform":[{"filter":"datum.s=='RT' || indexof(datum.s,'C4M4')==0"}],"mark":{"type":"line","interpolate":"monotone","strokeWidth":1.2,"clip":true},
"encoding":{"x":{"field":"x","type":"quantitative","scale":{"domain":[0,130],"nice":false,"zero":false},"axis":{"title":"Displacement (mm)","values":[0,10,20,30,40,50,60,70,80,90,100,110,120,130],"labelExpr":"datum.value % 20 == 0 ? datum.label : ''"}},
"y":{"field":"y","type":"quantitative","scale":{"domain":[0,80],"nice":false},"axis":{"title":"Force (KN)","values":[0,5,10,15,20,25,30,35,40,45,50,55,60,65,70,75,80],"labelExpr":"datum.value % 10 == 0 ? datum.label : ''"}},
"color":{"field":"s","type":"nominal","scale":{"domain":["RT","C4M4","C4M4-C","C4M4-P","C4M4-S"],"range":["#666666","#3c3c3c","#6fd3d3","#b84c52","#4b48a6"]},"legend":{"title":null,"orient":"none","legendX":54,"legendY":2}},
"strokeDash":{"field":"s","type":"nominal","scale":{"domain":["RT","C4M4","C4M4-C","C4M4-P","C4M4-S"],"range":[[4,3],[1,0],[1,0],[1,0],[1,0]]},"legend":{"title":null,"orient":"none","legendX":54,"legendY":2}}}},
{"width":185,"height":188,"transform":[{"filter":"datum.s=='RT' || indexof(datum.s,'C8M4')==0"}],"mark":{"type":"line","interpolate":"monotone","strokeWidth":1.2,"clip":true},
"encoding":{"x":{"field":"x","type":"quantitative","scale":{"domain":[0,130],"nice":false,"zero":false},"axis":{"title":"Displacement (mm)","values":[0,10,20,30,40,50,60,70,80,90,100,110,120,130],"labelExpr":"datum.value % 20 == 0 ? datum.label : ''"}},
"y":{"field":"y","type":"quantitative","scale":{"domain":[0,80],"nice":false},"axis":{"title":"Force (KN)","values":[0,5,10,15,20,25,30,35,40,45,50,55,60,65,70,75,80],"labelExpr":"datum.value % 10 == 0 ? datum.label : ''"}},
"color":{"field":"s","type":"nominal","scale":{"domain":["RT","C8M4","C8M4-C","C8M4-P","C8M4-S"],"range":["#666666","#3c3c3c","#6fd3d3","#b84c52","#4b48a6"]},"legend":{"title":null,"orient":"none","legendX":54,"legendY":8}},
"strokeDash":{"field":"s","type":"nominal","scale":{"domain":["RT","C8M4","C8M4-C","C8M4-P","C8M4-S"],"range":[[4,3],[1,0],[1,0],[1,0],[1,0]]},"legend":{"title":null,"orient":"none","legendX":54,"legendY":8}}}}
],"spacing":46,"bounds":"flush","resolve":{"scale":{"color":"independent","strokeDash":"independent"},"legend":{"color":"independent","strokeDash":"independent"}}},
{"vconcat":[
{"width":180,"height":182,"transform":[{"filter":"datum.s=='RT' || indexof(datum.s,'C0M8')==0"}],"mark":{"type":"line","interpolate":"monotone","strokeWidth":1.2,"clip":true},
"encoding":{"x":{"field":"x","type":"quantitative","scale":{"domain":[0,130],"nice":false,"zero":false},"axis":{"title":"Displacement (mm)","values":[0,10,20,30,40,50,60,70,80,90,100,110,120,130],"labelExpr":"datum.value % 20 == 0 ? datum.label : ''"}},
"y":{"field":"y","type":"quantitative","scale":{"domain":[0,80],"nice":false},"axis":{"title":"Force (KN)","values":[0,5,10,15,20,25,30,35,40,45,50,55,60,65,70,75,80],"labelExpr":"datum.value % 10 == 0 ? datum.label : ''"}},
"color":{"field":"s","type":"nominal","scale":{"domain":["RT","C0M8","C0M8-C","C0M8-P","C0M8-S"],"range":["#666666","#3c3c3c","#6fd3d3","#b84c52","#4b48a6"]},"legend":{"title":null,"orient":"none","legendX":52,"legendY":0}},
"strokeDash":{"field":"s","type":"nominal","scale":{"domain":["RT","C0M8","C0M8-C","C0M8-P","C0M8-S"],"range":[[4,3],[1,0],[1,0],[1,0],[1,0]]},"legend":{"title":null,"orient":"none","legendX":52,"legendY":0}}}},
{"width":184,"height":187,"transform":[{"filter":"datum.s=='RT' || indexof(datum.s,'C4M8')==0"}],"mark":{"type":"line","interpolate":"monotone","strokeWidth":1.2,"clip":true},
"encoding":{"x":{"field":"x","type":"quantitative","scale":{"domain":[0,130],"nice":false,"zero":false},"axis":{"title":"Displacement (mm)","values":[0,10,20,30,40,50,60,70,80,90,100,110,120,130],"labelExpr":"datum.value % 20 == 0 ? datum.label : ''"}},
"y":{"field":"y","type":"quantitative","scale":{"domain":[0,90],"nice":false},"axis":{"title":"Force (KN)","values":[0,5,10,15,20,25,30,35,40,45,50,55,60,65,70,75,80,85,90],"labelExpr":"datum.value % 10 == 0 ? datum.label : ''"}},
"color":{"field":"s","type":"nominal","scale":{"domain":["RT","C4M8","C4M8-C","C4M8-P","C4M8-S"],"range":["#666666","#3c3c3c","#6fd3d3","#b84c52","#4b48a6"]},"legend":{"title":null,"orient":"none","legendX":52,"legendY":2}},
"strokeDash":{"field":"s","type":"nominal","scale":{"domain":["RT","C4M8","C4M8-C","C4M8-P","C4M8-S"],"range":[[4,3],[1,0],[1,0],[1,0],[1,0]]},"legend":{"title":null,"orient":"none","legendX":52,"legendY":2}}}},
{"width":184,"height":186,"transform":[{"filter":"datum.s=='RT' || indexof(datum.s,'C8M8')==0"}],"mark":{"type":"line","interpolate":"monotone","strokeWidth":1.2,"clip":true},
"encoding":{"x":{"field":"x","type":"quantitative","scale":{"domain":[0,130],"nice":false,"zero":false},"axis":{"title":"Displacement (mm)","values":[0,10,20,30,40,50,60,70,80,90,100,110,120,130],"labelExpr":"datum.value % 20 == 0 ? datum.label : ''"}},
"y":{"field":"y","type":"quantitative","scale":{"domain":[0,90],"nice":false},"axis":{"title":"Force (KN)","values":[0,5,10,15,20,25,30,35,40,45,50,55,60,65,70,75,80,85,90],"labelExpr":"datum.value % 10 == 0 ? datum.label : ''"}},
"color":{"field":"s","type":"nominal","scale":{"domain":["RT","C8M8","C8M8-C","C8M8-P","C8M8-S"],"range":["#666666","#3c3c3c","#6fd3d3","#b84c52","#4b48a6"]},"legend":{"title":null,"orient":"none","legendX":52,"legendY":1}},
"strokeDash":{"field":"s","type":"nominal","scale":{"domain":["RT","C8M8","C8M8-C","C8M8-P","C8M8-S"],"range":[[4,3],[1,0],[1,0],[1,0],[1,0]]},"legend":{"title":null,"orient":"none","legendX":52,"legendY":1}}}}
],"spacing":51,"bounds":"flush","resolve":{"scale":{"color":"independent","strokeDash":"independent"},"legend":{"color":"independent","strokeDash":"independent"}}}
],
"config":{
"view":{"stroke":null},
"font":"Open Sans",
"axis":{"grid":false,"domainColor":"#444444","tickColor":"#444444","tickSize":3,"labelFontSize":8,"labelColor":"#333333","labelPadding":2,"titleFontSize":10.5,"titleFontWeight":"normal","titleColor":"#222222","labelFlush":false,"labelOverlap":false},
"axisX":{"titlePadding":3},
"axisY":{"titlePadding":3},
"legend":{"symbolType":"stroke","symbolSize":160,"symbolStrokeWidth":1.5,"labelFontSize":9.5,"labelColor":"#333333","rowPadding":0,"labelOffset":8,"padding":0}
}
}
